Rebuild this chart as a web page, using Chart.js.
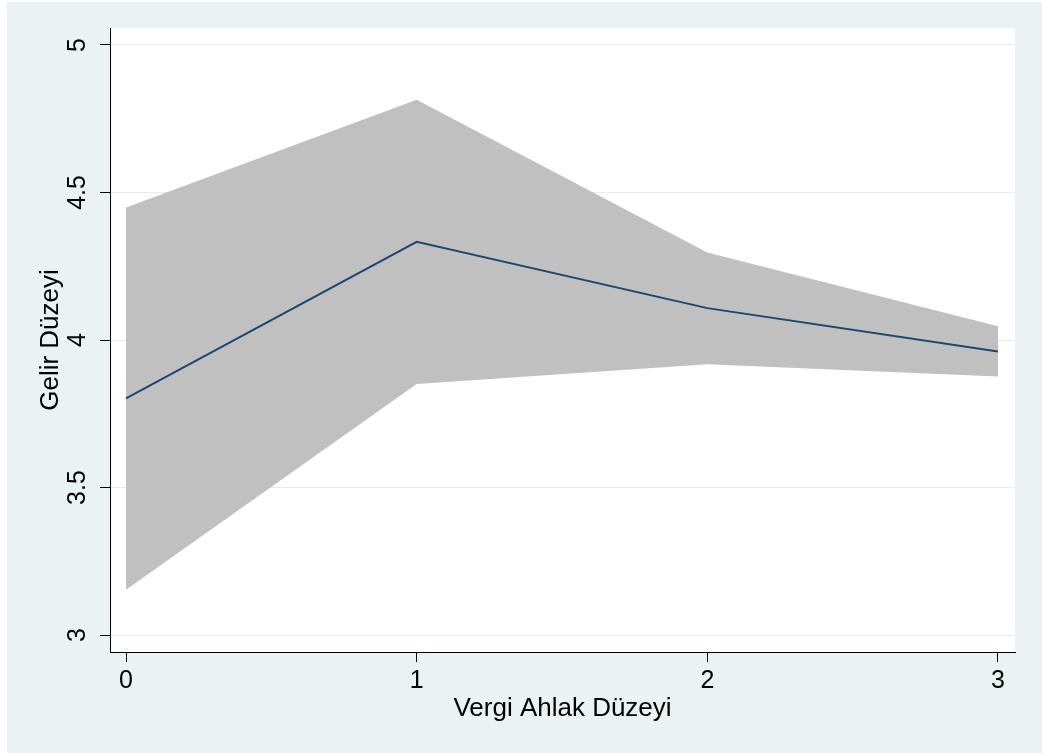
<!DOCTYPE html>
<html>
<head>
<meta charset="utf-8">
<script src="https://cdn.jsdelivr.net/npm/chart.js@4/dist/chart.umd.min.js"></script>
<style>
  html, body { margin: 0; padding: 0; background: #ffffff; }
  #c { display: block; }
</style>
</head>
<body>
<canvas id="c" width="1045" height="756"></canvas>
<script>
// ---- data ----
const categories = [0, 1, 2, 3];                     // Vergi Ahlak Düzeyi
const meanValues = [3.802, 4.333, 4.108, 3.961];     // Gelir Düzeyi (fitted)
const upperCI    = [4.449, 4.814, 4.297, 4.047];
const lowerCI    = [3.153, 3.851, 3.918, 3.876];
const xTickValues = [0, 1, 2, 3];
const yTickValues = [3, 3.5, 4, 4.5, 5];
const xTitle = 'Vergi Ahlak Düzeyi';
const yTitle = 'Gelir Düzeyi';

const FONT = '"Liberation Sans", Arial, Helvetica, sans-serif';
const BG_OUTER = '#EAF2F3';

const toPoints = (vals) => categories.map((c, i) => ({ x: c, y: vals[i] }));

const bgPlugin = {
  id: 'bgPlugin',
  beforeDraw(chart) {
    const ctx = chart.ctx;
    const a = chart.chartArea;
    ctx.save();
    ctx.fillStyle = '#ffffff';
    ctx.fillRect(0, 0, chart.width, chart.height);
    ctx.fillStyle = BG_OUTER;
    ctx.fillRect(7, 2, 1035, 751);
    ctx.fillStyle = '#ffffff';
    ctx.fillRect(a.left, a.top, a.right - a.left, a.bottom - a.top);
    ctx.restore();
  }
};

new Chart(document.getElementById('c'), {
  type: 'line',
  data: {
    datasets: [
      {
        label: 'upper',
        data: toPoints(upperCI),
        borderWidth: 0,
        borderColor: 'rgba(0,0,0,0)',
        backgroundColor: '#C0C0C0',
        pointRadius: 0,
        fill: '+1',
        tension: 0,
        order: 2
      },
      {
        label: 'lower',
        data: toPoints(lowerCI),
        borderWidth: 0,
        borderColor: 'rgba(0,0,0,0)',
        pointRadius: 0,
        fill: false,
        tension: 0,
        order: 2
      },
      {
        label: 'mean',
        data: toPoints(meanValues),
        borderColor: '#1A476F',
        borderWidth: 2,
        pointRadius: 0,
        fill: false,
        tension: 0,
        order: 0
      }
    ]
  },
  options: {
    responsive: false,
    animation: false,
    devicePixelRatio: 1,
    layout: { padding: { top: 28, right: 30, bottom: 0, left: 0 } },
    plugins: {
      legend: { display: false },
      tooltip: { enabled: false }
    },
    scales: {
      x: {
        type: 'linear',
        min: -0.05505,
        max: 3.0585,
        afterBuildTicks: (axis) => { axis.ticks = xTickValues.map(v => ({ value: v })); },
        afterFit: (axis) => { axis.height = 104; },
        ticks: {
          callback: (v) => String(v),
          color: '#000000',
          font: { family: FONT, size: 25 },
          padding: 4,
          maxRotation: 0,
          minRotation: 0
        },
        grid: {
          drawOnChartArea: false,
          drawTicks: true,
          tickLength: 10,
          tickColor: '#000000',
          tickWidth: 1
        },
        border: { display: true, color: '#000000', width: 1 },
        title: {
          display: true,
          text: xTitle,
          color: '#000000',
          font: { family: FONT, size: 26 },
          padding: { top: 0, bottom: 32 }
        }
      },
      y: {
        type: 'linear',
        min: 2.9424,
        max: 5.0576,
        afterBuildTicks: (axis) => { axis.ticks = yTickValues.map(v => ({ value: v })); },
        afterFit: (axis) => { axis.width = 110; },
        ticks: {
          callback: (v) => String(v),
          color: '#000000',
          font: { family: FONT, size: 25 },
          padding: 5,
          minRotation: 90,
          maxRotation: 90,
          crossAlign: 'center'
        },
        grid: {
          drawOnChartArea: true,
          color: '#E3EDF0',
          lineWidth: 1,
          drawTicks: true,
          tickLength: 10,
          tickColor: '#000000',
          tickWidth: 1
        },
        border: { display: true, color: '#000000', width: 1 },
        title: {
          display: true,
          text: yTitle,
          color: '#000000',
          font: { family: FONT, size: 26 },
          padding: { top: 35, bottom: 0 }
        }
      }
    }
  },
  plugins: [bgPlugin]
});
</script>
</body>
</html>
